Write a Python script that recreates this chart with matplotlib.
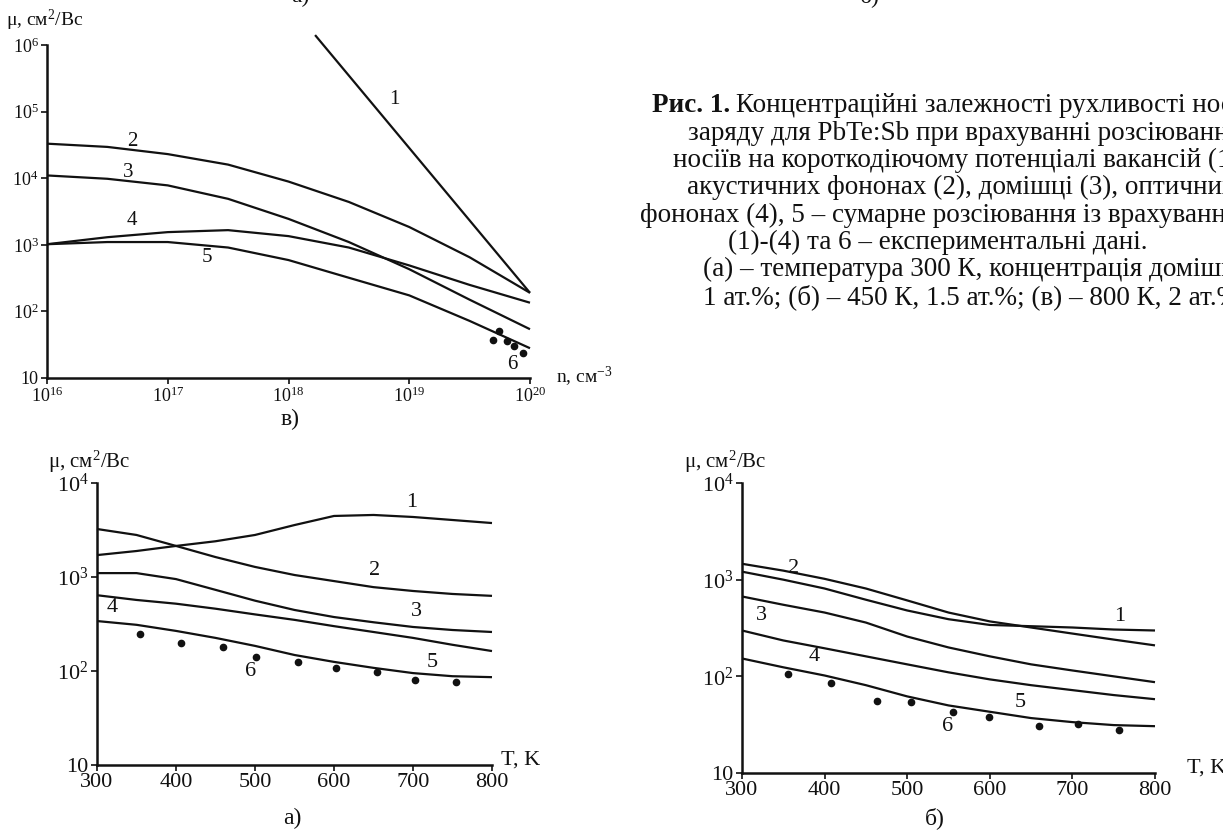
import numpy as np
import matplotlib.pyplot as plt
from matplotlib.ticker import FixedLocator, NullLocator

plt.rcParams['font.family'] = ['Liberation Serif', 'DejaVu Serif']
plt.rcParams['mathtext.fontset'] = 'custom'
plt.rcParams['mathtext.rm'] = 'Liberation Serif'
plt.rcParams['mathtext.default'] = 'regular'

# --- (в) mobility vs concentration, 800 K ---
n_grid = [1e16, 3.16e16, 1e17, 3.16e17, 1e18, 3.16e18, 1e19, 3.16e19, 1e20]
n_c1 = [1.66e18, 1e20]
mu_n1 = [1.41e6, 1.9e2]
mu_n2 = [3.3e4, 2.95e4, 2.3e4, 1.6e4, 8.9e3, 4.4e3, 1.85e3, 6.5e2, 1.9e2]
mu_n3 = [1.1e4, 9.8e3, 7.8e3, 4.9e3, 2.45e3, 1.1e3, 4.3e2, 1.5e2, 54]
mu_n4 = [1.02e3, 1.3e3, 1.55e3, 1.66e3, 1.35e3, 9.1e2, 4.9e2, 2.5e2, 1.35e2]
mu_n5 = [1.02e3, 1.1e3, 1.1e3, 9.1e2, 5.9e2, 3.2e2, 1.74e2, 72, 28]
n_exp = [4.9e19, 5.5e19, 6.5e19, 7.4e19, 8.7e19]
mu_n_exp = [37, 51, 36, 30, 24]

# --- (а) mobility vs temperature, 1 at.% ---
T_grid = [300, 350, 400, 450, 500, 550, 600, 650, 700, 750, 800]
mu_a1 = [1.71e3, 1.89e3, 2.14e3, 2.4e3, 2.8e3, 3.57e3, 4.46e3, 4.57e3, 4.35e3, 4.04e3, 3.75e3]
mu_a2 = [3.24e3, 2.8e3, 2.14e3, 1.63e3, 1.28e3, 1.05e3, 9.05e2, 7.8e2, 7.1e2, 6.6e2, 6.3e2]
mu_a3 = [1.1e3, 1.1e3, 9.5e2, 7.3e2, 5.6e2, 4.46e2, 3.75e2, 3.3e2, 2.94e2, 2.73e2, 2.6e2]
mu_a4 = [6.4e2, 5.7e2, 5.2e2, 4.6e2, 4.0e2, 3.5e2, 3.0e2, 2.6e2, 2.25e2, 1.9e2, 1.63e2]
mu_a5 = [3.4e2, 3.1e2, 2.67e2, 2.25e2, 1.85e2, 1.48e2, 1.25e2, 1.08e2, 95, 88, 86]
T_a_exp = [355, 406, 460, 501, 554, 602, 655, 703, 755]
mu_a_exp = [250, 200, 180, 140, 126, 107, 98, 80, 76]

# --- (б) mobility vs temperature, 1.5 at.% ---
mu_b1 = [1.21e3, 1.0e3, 8.1e2, 6.2e2, 4.8e2, 3.9e2, 3.4e2, 3.3e2, 3.2e2, 3.05e2, 2.98e2]
mu_b2 = [1.46e3, 1.24e3, 1.02e3, 8.1e2, 6.1e2, 4.57e2, 3.7e2, 3.2e2, 2.77e2, 2.4e2, 2.09e2]
mu_b3 = [6.7e2, 5.5e2, 4.57e2, 3.6e2, 2.58e2, 1.99e2, 1.61e2, 1.33e2, 1.15e2, 1.0e2, 87]
mu_b4 = [2.98e2, 2.35e2, 1.95e2, 1.61e2, 1.33e2, 1.1e2, 93, 81, 72, 64, 58]
mu_b5 = [1.53e2, 1.24e2, 1.02e2, 81, 62, 50, 43, 37, 33.6, 31.3, 30.5]
T_b_exp = [356, 408, 463, 505, 555, 599, 659, 707, 757]
mu_b_exp = [105, 85, 56, 54, 43, 38, 31, 32, 28]

caption = [
    'заряду для PbTe:Sb при врахуванні розсіювання',
    'носіїв на короткодіючому потенціалі вакансій (1),',
    'акустичних фононах (2), домішці (3), оптичних',
    'фононах (4), 5 – сумарне розсіювання із врахуванням',
    '(1)-(4) та 6 – експериментальні дані.',
    '(а) – температура 300 К, концентрація домішки',
    '1 ат.%; (б) – 450 К, 1.5 ат.%; (в) – 800 К, 2 ат.%.',
]

W, H = 1223, 834
INK = '#111111'


def px(x, y):
    return x / W, 1 - y / H


def box(x0, x1, ytop, ybot):
    return [x0 / W, 1 - ybot / H, (x1 - x0) / W, (ybot - ytop) / H]


def style(ax, fs):
    for s in ['top', 'right']:
        ax.spines[s].set_visible(False)
    for s in ['left', 'bottom']:
        ax.spines[s].set_linewidth(1.8)
        ax.spines[s].set_color(INK)
    ax.set_yscale('log')
    ax.xaxis.set_minor_locator(NullLocator())
    ax.yaxis.set_minor_locator(NullLocator())
    ax.tick_params(direction='out', length=4, width=1.2, labelsize=fs,
                   pad=2, colors=INK)
    ax.set_facecolor('none')


def curves(ax, x, ys, lw=1.6):
    for y in ys:
        ax.plot(x, y, color=INK, lw=lw, solid_capstyle='butt', clip_on=False)


fig = plt.figure(figsize=(W / 100, H / 100), dpi=100)

# ---- top plot (в) ----
ax_v = fig.add_axes(box(47, 530, 45, 378))
style(ax_v, 13)
ax_v.set_xscale('log')
ax_v.xaxis.set_minor_locator(NullLocator())
ax_v.set_xlim(1e16, 1e20)
ax_v.set_ylim(10, 1e6)
ax_v.xaxis.set_major_locator(FixedLocator([1e16, 1e17, 1e18, 1e19, 1e20]))
ax_v.set_xticklabels(['$10^{16}$', '$10^{17}$', '$10^{18}$', '$10^{19}$', '$10^{20}$'])
ax_v.yaxis.set_major_locator(FixedLocator([10, 1e2, 1e3, 1e4, 1e5, 1e6]))
ax_v.set_yticklabels(['10', '$10^{2}$', '$10^{3}$', '$10^{4}$', '$10^{5}$', '$10^{6}$'])
curves(ax_v, n_c1, [mu_n1])
curves(ax_v, n_grid, [mu_n2, mu_n3, mu_n4, mu_n5])
ax_v.plot(n_exp, mu_n_exp, 'o', color=INK, ms=4.5, clip_on=False)
for lbl, xx, yy in [('1', 7.6e18, 1.5e5), ('2', 5.1e16, 3.5e4), ('3', 4.7e16, 1.2e4),
                    ('4', 5e16, 2.3e3), ('5', 2.1e17, 6.5e2), ('6', 7.2e19, 16)]:
    ax_v.text(xx, yy, lbl, fontsize=15, ha='center', va='center', color=INK)

# ---- bottom-left (а) ----
ax_a = fig.add_axes(box(97, 492, 483, 765))
style(ax_a, 16)
ax_a.set_xlim(300, 800)
ax_a.set_ylim(10, 1e4)
ax_a.xaxis.set_major_locator(FixedLocator([300, 400, 500, 600, 700, 800]))
ax_a.yaxis.set_major_locator(FixedLocator([10, 1e2, 1e3, 1e4]))
ax_a.set_yticklabels(['10', '$10^{2}$', '$10^{3}$', '$10^{4}$'])
curves(ax_a, T_grid, [mu_a1, mu_a2, mu_a3, mu_a4, mu_a5])
ax_a.plot(T_a_exp, mu_a_exp, 'o', color=INK, ms=4.5)
for lbl, xx, yy in [('1', 698, 6.2e3), ('2', 651, 1.17e3), ('3', 704, 4.3e2),
                    ('4', 319, 4.7e2), ('5', 724, 1.22e2), ('6', 495, 1.0e2)]:
    ax_a.text(xx, yy, lbl, fontsize=16, ha='center', va='center', color=INK)

# ---- bottom-right (б) ----
ax_b = fig.add_axes(box(742, 1155, 483, 773))
style(ax_b, 16)
ax_b.set_xlim(300, 800)
ax_b.set_ylim(10, 1e4)
ax_b.xaxis.set_major_locator(FixedLocator([300, 400, 500, 600, 700, 800]))
ax_b.yaxis.set_major_locator(FixedLocator([10, 1e2, 1e3, 1e4]))
ax_b.set_yticklabels(['10', '$10^{2}$', '$10^{3}$', '$10^{4}$'])
curves(ax_b, T_grid, [mu_b1, mu_b2, mu_b3, mu_b4, mu_b5])
ax_b.plot(T_b_exp, mu_b_exp, 'o', color=INK, ms=4.5)
for lbl, xx, yy in [('2', 363, 1.3e3), ('1', 757, 4.2e2), ('3', 323, 4.3e2),
                    ('4', 387, 1.6e2), ('5', 637, 54), ('6', 549, 30)]:
    ax_b.text(xx, yy, lbl, fontsize=16, ha='center', va='center', color=INK)

# ---- axis captions ----
ylab = 'μ, см$^{2}$/Вс'
fig.text(*px(6, 20), ylab, fontsize=14, va='center', color=INK)
fig.text(*px(48, 462), ylab, fontsize=15, va='center', color=INK)
fig.text(*px(684, 462), ylab, fontsize=15, va='center', color=INK)
fig.text(*px(556, 377), 'n, см$^{-3}$', fontsize=14, va='center', color=INK)
fig.text(*px(501, 760), 'T, K', fontsize=16, va='center', color=INK)
fig.text(*px(1187, 768), 'T, K', fontsize=16, va='center', color=INK)
fig.text(*px(290, 419), 'в)', fontsize=17, ha='center', va='center', color=INK)
fig.text(*px(292, 818), 'а)', fontsize=17, ha='center', va='center', color=INK)
fig.text(*px(935, 818), 'б)', fontsize=17, ha='center', va='center', color=INK)
# cut-off panel letters of the figure above
fig.text(*px(300, -4), 'а)', fontsize=17, ha='center', va='center', color=INK)
fig.text(*px(870, -4), 'б)', fontsize=17, ha='center', va='center', color=INK)

# ---- figure caption ----
cap_fs = 19.5
y0, dy = 106, 27.3
t_bold = fig.text(*px(652, y0), 'Рис. 1.', fontsize=cap_fs, fontweight='bold',
                  va='center', color=INK)
fig.canvas.draw()
bb = t_bold.get_window_extent()
fig.text(bb.x1 / W + 6 / W, 1 - y0 / H, 'Концентраційні залежності рухливості носіїв',
         fontsize=cap_fs, va='center', color=INK)
starts = [688, 673, 687, 640, 728, 703, 703]
for i, (line, x0) in enumerate(zip(caption, starts)):
    fig.text(*px(x0, y0 + dy * (i + 1)), line, fontsize=cap_fs, va='center', color=INK)

fig.savefig('out.png', dpi=100, facecolor='white')
